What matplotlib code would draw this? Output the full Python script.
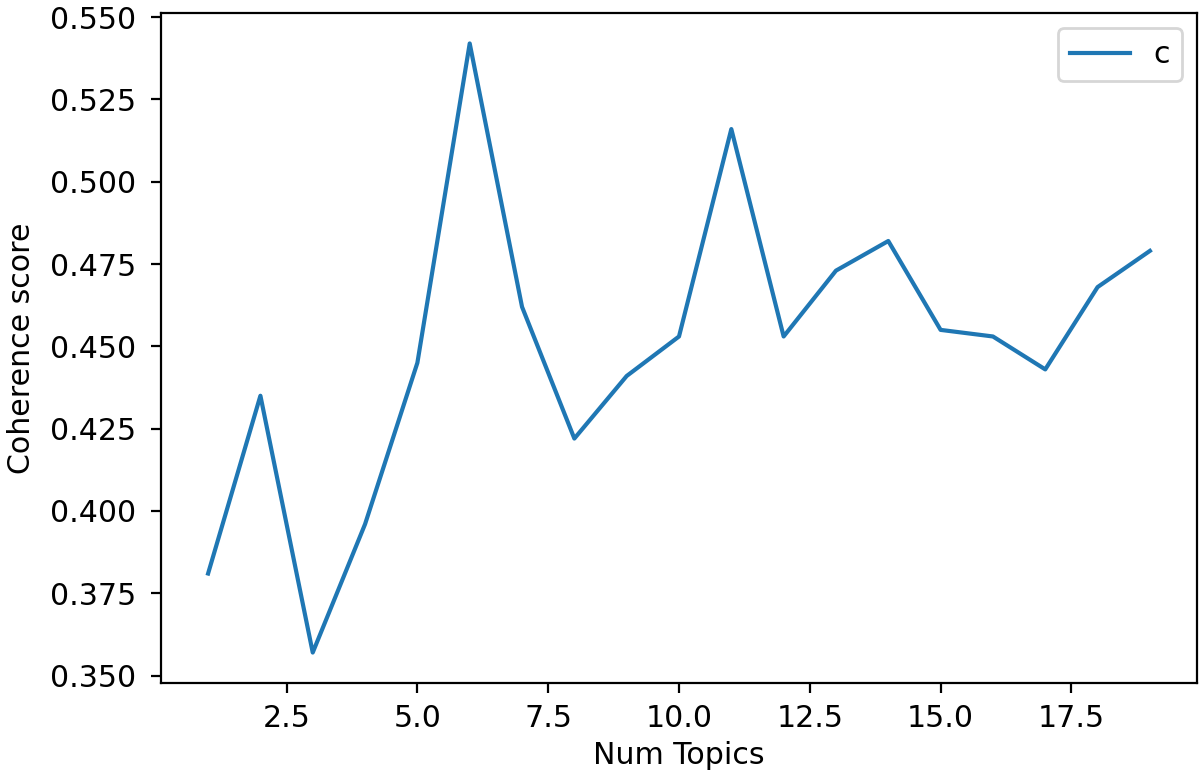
import matplotlib
matplotlib.use("Agg")
import matplotlib.pyplot as plt

num_topics = list(range(1, 20))
coherence = [0.381, 0.435, 0.357, 0.396, 0.445, 0.542, 0.462, 0.422, 0.441, 0.453,
             0.516, 0.453, 0.473, 0.482, 0.455, 0.453, 0.443, 0.468, 0.479]
series_label = "c"

plt.rcParams["font.size"] = 10.8

fig = plt.figure(figsize=(6, 3.9), dpi=200)
ax = fig.add_axes([161/1200, 1 - 683/780, (1197-161)/1200, (683-13)/780])
ax.plot(num_topics, coherence, color="#1f77b4", label=series_label)
ax.set_xlabel("Num Topics", labelpad=3)
ax.set_ylabel("Coherence score", labelpad=5)
ax.tick_params(axis="y", pad=5.5)
ax.tick_params(axis="x", pad=4)
ax.legend(loc="upper right")
fig.savefig("out.png", dpi=200)
